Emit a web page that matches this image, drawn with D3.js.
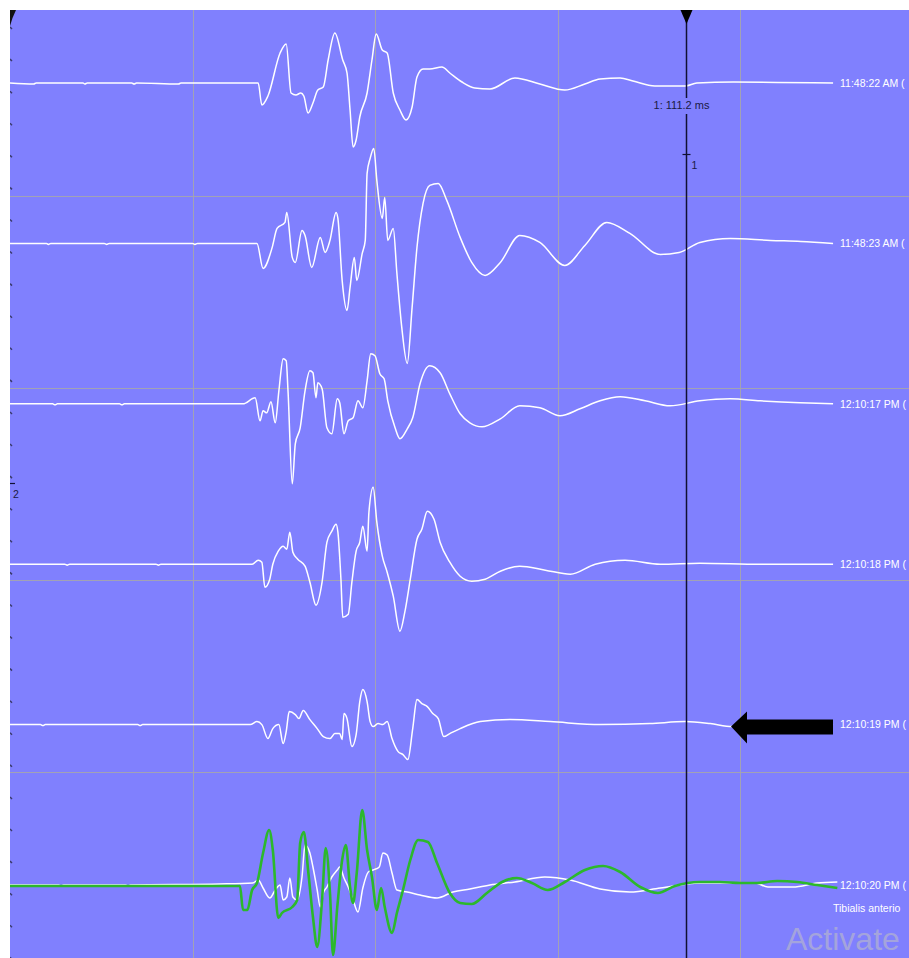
<!DOCTYPE html>
<html>
<head>
<meta charset="utf-8">
<script src="https://cdn.jsdelivr.net/npm/d3@7"></script>
<style>
    body { margin: 0; background: #ffffff; }
    svg { display: block; font-family: Arial, "Liberation Sans", sans-serif; }
</style>
</head>
<body>
<svg id="emg" width="909" height="958"></svg>
<script>
// labels of the 6 sweeps (top to bottom), cut where the panel ends
const sweepLabels = ['11:48:22 AM (', '11:48:23 AM (', '12:10:17 PM (', '12:10:18 PM (', '12:10:19 PM (', '12:10:20 PM (']
const muscleLabel = 'Tibialis anterio'
const cursorMs = 111.2
const gridMs = [30, 60, 90, 120]

// [time ms, amplitude uV]
const sweep1 = [[0,0],[3.9,-10],[4.3,0],[12.0,0],[12.3,-10],[12.7,0],[20.0,0],[20.4,-10],[20.8,0],[27.7,-10],[28.1,0],[40.8,0],[41.4,-220],[42.4,-130],[44.4,300],[45.4,390],[46.2,-100],[47.0,-120],[47.8,-100],[48.3,-130],[49.0,-300],[49.8,-200],[50.6,-70],[51.5,-40],[52.3,230],[53.4,500],[54.7,230],[55.4,100],[55.9,-270],[56.4,-640],[56.9,-570],[57.5,-340],[58.7,-100],[59.5,230],[60.2,490],[61.2,330],[62.0,300],[63.0,-100],[64.1,-270],[65.1,-370],[66.1,-240],[66.9,60],[67.9,140],[69.0,140],[71.0,160],[72.3,100],[74.3,10],[76.4,-50],[78.9,-60],[83.0,50],[87.1,-10],[91.2,-70],[94.5,-10],[97.0,40],[100.3,50],[102.4,20],[106.0,-30],[111.0,-30],[112.9,0],[118.9,10],[135.3,0]]
const sweep2 = [[0,0],[6.0,0],[6.3,-10],[6.7,0],[15.5,0],[15.9,-10],[16.3,0],[30.0,0],[30.4,-10],[30.8,0],[40.6,0],[41.6,-250],[43.1,-40],[43.9,150],[45.2,210],[45.5,310],[46.4,-140],[46.9,-190],[48.0,130],[48.5,80],[49.6,-240],[51.0,60],[51.8,-90],[52.6,30],[53.6,310],[53.9,250],[54.6,-370],[55.4,-670],[55.9,-440],[56.6,-140],[57.0,-370],[57.9,-100],[58.4,30],[58.7,700],[59.2,850],[59.8,950],[60.3,630],[61.2,250],[61.6,460],[62.1,30],[63.0,150],[63.6,-300],[64.4,-840],[65.3,-1200],[66.1,-640],[66.9,-40],[67.9,400],[69.0,580],[70.4,600],[71.8,430],[74.0,60],[75.9,-190],[78.1,-320],[80.6,-190],[83.8,80],[87.1,10],[91.2,-220],[94.5,-20],[98.1,210],[101.9,100],[106.9,-110],[110.0,-90],[113.4,10],[118.4,50],[125.0,30],[130.0,20],[135.3,0]]
const sweep3 = [[0,0],[7.0,0],[7.4,-10],[7.8,0],[18.0,0],[18.4,-10],[18.8,0],[36.2,0],[38.3,0],[40.3,60],[41.1,-170],[41.6,-70],[42.2,-90],[42.9,20],[43.6,-190],[44.2,130],[44.9,450],[45.4,430],[45.7,130],[46.4,-800],[46.9,-400],[47.7,-240],[48.5,130],[49.3,330],[49.8,310],[50.3,60],[50.6,210],[51.3,150],[52.1,-240],[52.9,-300],[53.8,50],[54.2,10],[54.9,-300],[55.6,-170],[56.4,-140],[57.2,30],[58.0,-40],[58.7,230],[59.3,500],[60.0,480],[60.8,300],[61.5,250],[62.1,30],[63.3,-240],[64.1,-350],[65.3,-250],[66.2,-140],[67.4,200],[69.0,380],[70.7,310],[72.3,100],[74.0,-100],[75.6,-190],[77.6,-230],[80.6,-150],[83.8,-20],[87.1,-40],[90.4,-120],[93.7,-50],[97.0,30],[100.3,70],[104.4,30],[108.5,-20],[113.4,30],[118.4,50],[123.3,30],[129.9,10],[135.3,0]]
const sweep4 = [[0,0],[9.0,0],[9.4,-10],[9.8,0],[24.0,0],[24.4,-10],[24.8,0],[36.2,0],[39.8,0],[40.8,40],[41.4,20],[41.9,-230],[42.7,-150],[43.2,0],[44.1,130],[44.9,180],[45.5,150],[46.0,320],[46.5,120],[47.3,50],[48.5,-20],[49.3,-180],[50.3,-410],[51.3,-180],[52.1,220],[52.9,330],[53.6,400],[53.9,320],[54.4,-150],[54.7,-530],[55.6,-500],[56.2,-180],[56.9,130],[57.5,220],[58.0,380],[58.7,130],[59.0,520],[59.7,770],[60.3,420],[61.2,80],[62.0,-80],[63.0,-320],[64.1,-670],[64.9,-480],[65.8,-150],[66.9,250],[67.7,350],[68.6,530],[69.7,450],[70.7,220],[72.3,20],[74.0,-120],[75.9,-170],[78.1,-150],[80.6,-70],[83.8,-20],[88.0,-60],[92.1,-100],[96.2,0],[101.1,40],[106.9,0],[113.4,10],[123.3,0],[135.3,0]]
const sweep5 = [[0,0],[5.0,0],[5.4,-10],[5.8,0],[21.0,0],[21.4,-10],[21.8,0],[36.2,0],[39.5,0],[40.6,30],[41.4,0],[42.4,-140],[43.2,-40],[44.2,0],[44.9,-190],[45.4,-70],[45.9,130],[46.9,100],[47.5,60],[48.2,140],[49.3,50],[50.5,-40],[51.5,-120],[52.6,-140],[53.4,-90],[54.2,-90],[54.6,-150],[54.9,110],[55.4,60],[56.2,-220],[56.9,-100],[57.5,230],[58.0,350],[58.7,230],[59.2,30],[59.7,-20],[60.5,10],[61.3,0],[62.0,30],[62.8,-140],[63.8,-270],[64.6,-300],[65.4,-350],[66.2,-40],[66.9,250],[67.7,210],[68.6,180],[69.5,110],[70.4,60],[71.3,-120],[72.3,-90],[74.0,-40],[77.3,30],[82.2,50],[88.8,30],[97.0,0],[105.2,10],[111.0,30],[115.1,10],[118.7,-20],[135.3,0]]
const sweep6 = [[0,0],[8.0,0],[8.4,-10],[8.8,0],[19.0,0],[19.4,-10],[19.8,0],[34.5,10],[39.9,20],[40.8,50],[41.6,-30],[42.7,-130],[43.6,-50],[44.4,0],[44.9,-150],[45.5,-120],[46.0,70],[46.5,-120],[47.2,-150],[48.0,80],[48.5,400],[49.3,320],[49.8,180],[50.5,-50],[51.0,-220],[51.5,-80],[52.1,-20],[52.9,80],[53.8,150],[54.2,180],[54.9,70],[55.6,-20],[56.4,-150],[57.2,-270],[58.0,-30],[58.9,130],[59.7,150],[60.7,180],[61.3,320],[62.0,300],[62.8,120],[63.6,-50],[65.3,-70],[67.4,-100],[70.2,-130],[72.8,-70],[75.6,-40],[78.9,0],[83.0,30],[87.9,80],[92.1,50],[97.0,-40],[101.9,-70],[106.9,-30],[113.4,20],[120.0,20],[122.5,20],[124.6,-20],[128.7,-20],[132.7,20],[136.0,30]]
// green reference sweep overlaid on the last one
const sweep6Ref = [[0,-10],[37.8,-10],[38.3,-250],[39.0,-250],[39.8,-50],[40.6,20],[41.6,320],[42.6,550],[43.2,350],[44.1,-330],[44.7,-280],[46.4,-220],[47.2,-150],[47.7,420],[48.3,530],[49.0,150],[49.8,-320],[50.5,-620],[51.3,-150],[51.9,370],[52.6,-80],[53.1,-700],[53.8,-220],[54.6,250],[55.2,400],[55.9,-20],[56.4,-180],[57.0,120],[57.9,750],[58.7,350],[59.5,80],[60.3,-250],[61.0,-30],[61.6,-220],[62.8,-480],[63.6,-280],[64.6,-50],[65.8,250],[67.1,450],[68.7,430],[70.2,220],[72.3,-80],[74.0,-180],[75.9,-190],[78.4,-80],[80.9,30],[83.3,70],[85.8,20],[88.4,-50],[91.2,30],[94.5,150],[97.5,190],[100.3,130],[103.6,-20],[106.5,-80],[109.3,-10],[113.4,30],[116.7,30],[120.0,20],[122.8,20],[126.1,40],[129.4,30],[132.7,0],[136.0,-30]]

const sweeps = [sweep1, sweep2, sweep3, sweep4, sweep5, sweep6]

const svg = d3.select('#emg')

const margin = { top: 10, left: 10 }
const width = 909 - margin.left
const height = 958 - margin.top

svg.append('defs').append('clipPath').attr('id', 'plotclip')
    .append('rect').attr('x', margin.left).attr('y', margin.top).attr('width', width).attr('height', height)

const chart = svg.append('g').attr('clip-path', 'url(#plotclip)')

chart.append('rect')
    .attr('x', margin.left).attr('y', margin.top)
    .attr('width', width).attr('height', height)
    .attr('fill', '#8080fe')

// 6.083 px per ms
const xScale = d3.scaleLinear().domain([0, 150]).range([margin.left, margin.left + 912.5])
const rowScale = d3.scalePoint().domain(d3.range(6)).range([83, 885])
const ampScale = d3.scaleLinear().domain([-1000, 1000]).range([100, -100])
const divScale = d3.scaleLinear().domain([0, 5]).range([4, 964])

/*grid*/
chart.append('g')
    .selectAll('line')
    .data(gridMs)
    .enter()
    .append('line')
    .attr('x1', (d) => Math.round(xScale(d)) + 0.5)
    .attr('x2', (d) => Math.round(xScale(d)) + 0.5)
    .attr('y1', margin.top).attr('y2', 958)
    .attr('stroke', '#a2a2b4').attr('stroke-width', 1)

chart.append('g')
    .selectAll('line')
    .data([1, 2, 3, 4])
    .enter()
    .append('line')
    .attr('x1', margin.left).attr('x2', 909)
    .attr('y1', (d) => Math.round(divScale(d)) + 0.5)
    .attr('y2', (d) => Math.round(divScale(d)) + 0.5)
    .attr('stroke', '#a2a2b4').attr('stroke-width', 1)

/*left border ticks*/
chart.append('g')
    .selectAll('line')
    .data(d3.range(0, 30))
    .enter()
    .append('line')
    .attr('x1', margin.left).attr('x2', margin.left + 2)
    .attr('y1', (d) => 27 + d * 32.08).attr('y2', (d) => 29 + d * 32.08)
    .attr('stroke', '#3a3a6a').attr('stroke-width', 1.5)

const line = (row) => d3.line()
    .curve(d3.curveMonotoneX)
    .x((d) => xScale(d[0]))
    .y((d) => rowScale(row) + ampScale(d[1]))

/*white sweeps*/
sweeps.forEach(function (s, i) {
    chart.append('path')
        .datum(s)
        .attr('d', line(i))
        .attr('fill', 'none')
        .attr('stroke', '#ffffff')
        .attr('stroke-width', 1.5)
        .attr('stroke-linejoin', 'round')
})

/*green overlay*/
chart.append('path')
    .datum(sweep6Ref)
    .attr('d', line(5))
    .attr('fill', 'none')
    .attr('stroke', '#2cb82c')
    .attr('stroke-width', 2.6)
    .attr('stroke-linejoin', 'round')

/*sweep labels*/
chart.append('g')
    .selectAll('text')
    .data(sweepLabels)
    .enter()
    .append('text')
    .attr('x', 840)
    .attr('y', (d, i) => rowScale(i) + 1)
    .attr('dominant-baseline', 'middle')
    .attr('font-size', 10.5)
    .attr('fill', '#ffffff')
    .text((d) => d)

chart.append('text')
    .attr('x', 833).attr('y', 909)
    .attr('dominant-baseline', 'middle')
    .attr('font-size', 10.5)
    .attr('fill', '#ffffff')
    .text(muscleLabel)

/*cursor*/
const cx = Math.round(xScale(cursorMs)) + 0.5
chart.append('line')
    .attr('x1', cx).attr('x2', cx).attr('y1', margin.top).attr('y2', 98)
    .attr('stroke', '#111133').attr('stroke-width', 1.5)
chart.append('line')
    .attr('x1', cx).attr('x2', cx).attr('y1', 114).attr('y2', 958)
    .attr('stroke', '#111133').attr('stroke-width', 1.5)
chart.append('path')
    .attr('d', `M${cx - 6},${margin.top}L${cx + 6},${margin.top}L${cx},${margin.top + 14}Z`)
    .attr('fill', '#000000')
chart.append('text')
    .attr('x', cx - 5).attr('y', 106)
    .attr('text-anchor', 'middle')
    .attr('dominant-baseline', 'middle')
    .attr('font-size', 11)
    .attr('fill', '#1a1a44')
    .text(`1: ${cursorMs} ms`)
chart.append('line')
    .attr('x1', cx - 4).attr('x2', cx + 4).attr('y1', 154.5).attr('y2', 154.5)
    .attr('stroke', '#111133').attr('stroke-width', 1.2)
chart.append('text')
    .attr('x', cx + 5).attr('y', 166)
    .attr('dominant-baseline', 'middle')
    .attr('font-size', 10.5)
    .attr('fill', '#1a1a44')
    .text('1')

/*marker 2 on the left*/
chart.append('line')
    .attr('x1', margin.left).attr('x2', margin.left + 5).attr('y1', 483.5).attr('y2', 483.5)
    .attr('stroke', '#111133').attr('stroke-width', 1.2)
chart.append('text')
    .attr('x', 13).attr('y', 495)
    .attr('dominant-baseline', 'middle')
    .attr('font-size', 10.5)
    .attr('fill', '#1a1a44')
    .text('2')

/*corner cursor*/
chart.append('path')
    .attr('d', `M${margin.left},${margin.top}L${margin.left + 6},${margin.top}Q${margin.left + 2},${margin.top + 8} ${margin.left},${margin.top + 16}Z`)
    .attr('fill', '#111111')

/*arrow annotation*/
const ay = rowScale(4) + 2
chart.append('path')
    .attr('d', `M731,${ay}L747,${ay - 15}L747,${ay - 7}L833,${ay - 7}L833,${ay + 8}L747,${ay + 8}L747,${ay + 17}Z`)
    .attr('fill', '#000000')

/*watermark*/
chart.append('text')
    .attr('x', 786).attr('y', 950)
    .attr('font-size', 32)
    .attr('fill', '#a4a4dc')
    .text('Activate')
</script>
</body>
</html>
